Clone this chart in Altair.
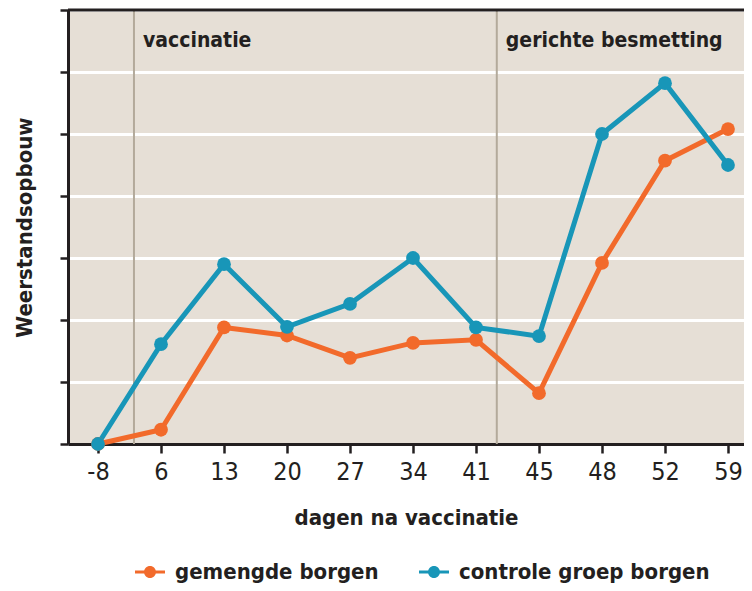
import altair as alt
import pandas as pd

days = ["-8", "6", "13", "20", "27", "34", "41", "45", "48", "52", "59"]
gemengde = [0.0, 0.23, 1.88, 1.75, 1.39, 1.63, 1.68, 0.82, 2.92, 4.57, 5.08]
controle = [0.0, 1.61, 2.90, 1.89, 2.26, 3.00, 1.88, 1.74, 5.00, 5.82, 4.50]
series_names = ["gemengde borgen", "controle groep borgen"]
series_colors = ["#f26a2b", "#1896b8"]

phase_labels = ["vaccinatie", "gerichte besmetting"]
phase_pos = [0.571, 6.33]

FONT = "DejaVu Sans Condensed, DejaVu Sans, sans-serif"
DARK = "#231f20"

rows = []
for name, vals in zip(series_names, [gemengde, controle]):
    for i, (d, v) in enumerate(zip(days, vals)):
        rows.append({"idx": i, "dag": d, "waarde": v, "groep": name})
df = pd.DataFrame(rows)
phases = pd.DataFrame({"pos": phase_pos, "label": phase_labels, "ytop": [7, 7], "ybot": [0, 0], "ylab": [6.5, 6.5]})

label_arr = "[" + ",".join("'" + d + "'" for d in days) + "]"

xscale = alt.Scale(domain=[-30 / 63, 646 / 63], nice=False, zero=False)
yscale = alt.Scale(domain=[0, 7], nice=False)

xaxis = alt.Axis(
    values=list(range(len(days))),
    labelExpr=label_arr + "[datum.value]",
    title="dagen na vaccinatie",
    grid=False,
    domainColor=DARK, domainWidth=3,
    tickColor=DARK, tickWidth=2.5, tickSize=9,
    labelFont=FONT, labelFontSize=25, labelColor=DARK, labelPadding=6,
    titleFont=FONT, titleFontSize=22, titleFontWeight="bold", titleColor=DARK, titlePadding=23,
)
yaxis = alt.Axis(
    values=list(range(8)),
    labels=False,
    title="Weerstandsopbouw",
    grid=True, gridColor="white", gridWidth=3,
    domainColor=DARK, domainWidth=3,
    tickColor=DARK, tickWidth=2.5, tickSize=8,
    titleFont=FONT, titleFontSize=22, titleFontWeight="bold", titleColor=DARK, titlePadding=22,
)

color = alt.Color(
    "groep:N",
    scale=alt.Scale(domain=series_names, range=series_colors),
    title=None,
    legend=alt.Legend(
        orient="none", direction="horizontal", legendX=67, legendY=547,
        symbolType="M-1,-0.1 L-0.3,-0.1 L-0.3,0.1 L-1,0.1 Z M0.3,-0.1 L1,-0.1 L1,0.1 L0.3,0.1 Z M0.4,0 A0.4,0.4 0 1,1 -0.4,0 A0.4,0.4 0 1,1 0.4,0 Z",
        symbolSize=900, symbolStrokeWidth=0, symbolOpacity=1,
        labelFont=FONT, labelFontSize=22, labelFontWeight="bold", labelColor=DARK,
        labelOffset=10, columnPadding=40, labelLimit=400,
    ),
)

vlines = alt.Chart(phases).mark_rule(color="#b3aa9b", strokeWidth=2).encode(
    x=alt.X("pos:Q", scale=xscale, axis=xaxis),
    y=alt.Y("ybot:Q", scale=yscale, axis=yaxis),
    y2="ytop:Q",
)
topline = alt.Chart(phases.head(1)).mark_rule(color=DARK, strokeWidth=3).encode(
    y=alt.Y("ytop:Q", scale=yscale),
)
texts = alt.Chart(phases).mark_text(
    align="left", baseline="middle", dx=9, font=FONT, fontSize=21, fontWeight="bold", color=DARK
).encode(
    x=alt.X("pos:Q", scale=xscale),
    y=alt.Y("ylab:Q", scale=yscale),
    text="label:N",
)
lines = alt.Chart(df).mark_line(strokeWidth=5).encode(
    x=alt.X("idx:Q", scale=xscale),
    y=alt.Y("waarde:Q", scale=yscale),
    color=color,
)
points = alt.Chart(df).mark_point(filled=True, size=190, opacity=1).encode(
    x=alt.X("idx:Q", scale=xscale),
    y=alt.Y("waarde:Q", scale=yscale),
    color=color,
)

chart = alt.layer(vlines, topline, texts, lines, points).properties(
    width=676, height=434,
    autosize=alt.AutoSizeParams(type="none"),
    padding={"left": 60, "top": 2, "right": 0, "bottom": 139},
).configure_view(fill="#e6dfd6", stroke=None)

chart.save("out.html", embed_options={"renderer": "svg", "actions": False})
